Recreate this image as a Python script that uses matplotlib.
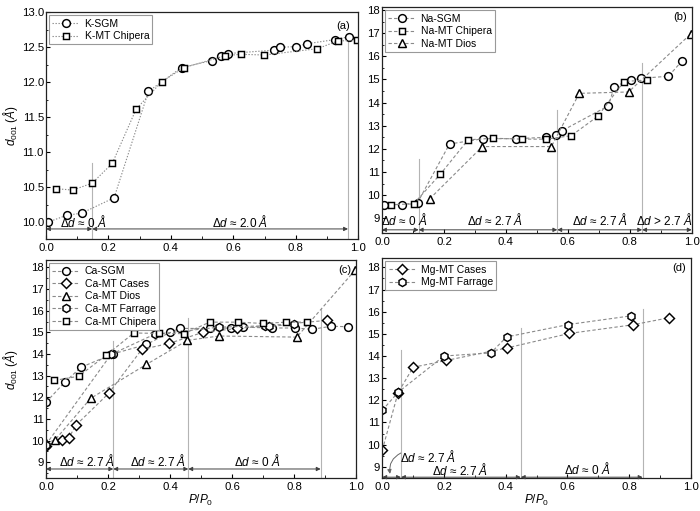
import matplotlib
matplotlib.use("Agg")
import matplotlib.pyplot as plt
from matplotlib.ticker import MultipleLocator, FormatStrFormatter

plt.rcParams['font.family'] = ['Liberation Sans', 'DejaVu Sans']
plt.rcParams['mathtext.fontset'] = 'custom'
plt.rcParams['mathtext.rm'] = 'Liberation Sans'
plt.rcParams['mathtext.it'] = 'Liberation Sans:italic'
plt.rcParams['mathtext.bf'] = 'Liberation Sans:bold'

# ---------------- data ----------------
# (a) K
k_sgm_x = [0.005, 0.066, 0.114, 0.218, 0.328, 0.434, 0.530, 0.561, 0.582, 0.730, 0.750, 0.800, 0.835, 0.924, 0.970]
k_sgm_y = [10.00, 10.10, 10.13, 10.35, 11.87, 12.21, 12.31, 12.37, 12.41, 12.46, 12.50, 12.51, 12.55, 12.61, 12.65]
k_chip_x = [0.032, 0.086, 0.148, 0.212, 0.289, 0.371, 0.442, 0.574, 0.623, 0.699, 0.869, 0.934, 0.995]
k_chip_y = [10.48, 10.46, 10.56, 10.84, 11.62, 12.01, 12.21, 12.38, 12.40, 12.39, 12.48, 12.59, 12.60]

# (b) Na
na_sgm_x = [0.005, 0.065, 0.115, 0.218, 0.327, 0.433, 0.531, 0.561, 0.582, 0.731, 0.750, 0.803, 0.837, 0.925, 0.970]
na_sgm_y = [9.59, 9.59, 9.68, 12.21, 12.44, 12.44, 12.50, 12.60, 12.79, 13.86, 14.69, 14.98, 15.05, 15.14, 15.82]
na_chip_x = [0.029, 0.102, 0.188, 0.278, 0.359, 0.453, 0.529, 0.611, 0.697, 0.781, 0.857]
na_chip_y = [9.59, 9.62, 10.90, 12.39, 12.46, 12.42, 12.42, 12.57, 13.41, 14.91, 14.98]
na_dios_x = [0.154, 0.324, 0.547, 0.637, 0.796, 0.997]
na_dios_y = [9.84, 12.10, 12.10, 14.40, 14.46, 16.97]

# (c) Ca
ca_sgm_x = [0.0, 0.060, 0.112, 0.215, 0.324, 0.400, 0.431, 0.528, 0.598, 0.634, 0.730, 0.804, 0.858, 0.920, 0.973]
ca_sgm_y = [11.77, 12.69, 13.38, 14.00, 14.44, 15.00, 15.18, 15.18, 15.20, 15.24, 15.20, 15.20, 15.14, 15.28, 15.26]
ca_cases_x = [0.0, 0.050, 0.074, 0.097, 0.202, 0.309, 0.398, 0.506, 0.617, 0.905]
ca_cases_y = [9.77, 10.01, 10.14, 10.72, 12.18, 14.21, 14.49, 15.00, 15.18, 15.55]
ca_dios_x = [0.0, 0.029, 0.144, 0.324, 0.456, 0.558, 0.809, 0.997]
ca_dios_y = [9.88, 10.03, 11.95, 13.52, 14.63, 14.83, 14.78, 17.87]
ca_farr_x = [0.0, 0.210, 0.350, 0.559, 0.706, 0.720, 0.801]
ca_farr_y = [9.82, 13.98, 14.91, 15.24, 15.30, 15.27, 15.38]
ca_chip_x = [0.027, 0.105, 0.195, 0.283, 0.365, 0.445, 0.528, 0.620, 0.699, 0.775, 0.841]
ca_chip_y = [12.78, 12.97, 13.95, 14.97, 14.95, 14.94, 15.47, 15.47, 15.41, 15.47, 15.47]

# (d) Mg
mg_cases_x = [0.0, 0.051, 0.100, 0.208, 0.403, 0.607, 0.813, 0.931]
mg_cases_y = [9.75, 12.34, 13.49, 13.80, 14.36, 15.02, 15.41, 15.73]
mg_farr_x = [0.0, 0.051, 0.200, 0.352, 0.403, 0.603, 0.805]
mg_farr_y = [11.55, 12.36, 14.00, 14.14, 14.86, 15.42, 15.81]

# region boundaries (vertical guide lines) and labels
a_bounds = [0.0, 0.148, 0.967]
a_vtop = [10.85, 12.65]
a_labels = [r'Δ$d$ ≈ 0 $Å$', r'Δ$d$ ≈ 2.0 $Å$']
b_bounds = [0.0, 0.1185, 0.566, 0.84, 1.0]
b_vtop = [11.55, 13.68, 15.70]
b_labels = [r'Δ$d$ ≈ 0 $Å$', r'Δ$d$ ≈ 2.7 $Å$', r'Δ$d$ ≈ 2.7 $Å$', r'Δ$d$ > 2.7 $Å$']
c_bounds = [0.0, 0.217, 0.459, 0.886]
c_vtop = [14.61, 15.65, 16.06]
c_labels = [r'Δ$d$ ≈ 2.7 $Å$', r'Δ$d$ ≈ 2.7 $Å$', r'Δ$d$ ≈ 0 $Å$']
d_bounds = [0.0, 0.0606, 0.449, 0.844]
d_vtop = [14.27, 15.25, 16.10]
d_labels = [r'Δ$d$ ≈ 2.7 $Å$', r'Δ$d$ ≈ 2.7 $Å$', r'Δ$d$ ≈ 0 $Å$']

# ---------------- figure ----------------
fig = plt.figure(figsize=(7.0, 5.11), dpi=100)
W, H = 700.0, 511.0

def mkax(x0, x1, y0, y1):
    return fig.add_axes([x0 / W, 1 - y1 / H, (x1 - x0) / W, (y1 - y0) / H])

axa = mkax(46, 358.3, 12.3, 239.3)
axb = mkax(382, 691.7, 7.3, 233.3)
axc = mkax(46, 356, 260, 478.3)
axd = mkax(382.3, 690.7, 258.3, 478.3)

LC = '#8a8a8a'
VC = '#b4b4b4'
AC = '#404040'
TFS = 8.2

def series(ax, x, y, marker, ms, label, dashes):
    ax.plot(x, y, color=LC, lw=0.8, dashes=dashes, marker=marker, ms=ms,
            mfc='white', mec='black', mew=1.05, label=label)

def style(ax, ylim, ymaj, ymin_, yfmt):
    ax.set_xlim(0, 1)
    ax.set_ylim(*ylim)
    ax.xaxis.set_major_locator(MultipleLocator(0.2))
    ax.xaxis.set_minor_locator(MultipleLocator(0.1))
    ax.xaxis.set_major_formatter(FormatStrFormatter('%.1f'))
    ax.yaxis.set_major_locator(MultipleLocator(ymaj))
    ax.yaxis.set_minor_locator(MultipleLocator(ymin_))
    ax.yaxis.set_major_formatter(FormatStrFormatter(yfmt))
    ax.tick_params(axis='x', which='major', direction='in', length=3, width=0.8, labelsize=TFS, pad=3)
    ax.tick_params(axis='x', which='minor', direction='in', length=2, width=0.6)
    ax.tick_params(axis='y', which='major', direction='in', length=3, width=0.8, labelsize=TFS, pad=1.5)
    ax.tick_params(axis='y', which='minor', direction='in', length=1.5, width=0.6)
    for s in ax.spines.values():
        s.set_linewidth(0.9)
        s.set_color('#222222')

def guides(ax, bounds, vtop, ylo):
    for xv, yt in zip(bounds[1:], vtop):
        ax.plot([xv, xv], [ylo, yt], color=VC, lw=0.8, zorder=1)

def arrows(ax, bounds, yarr):
    for x0, x1 in zip(bounds[:-1], bounds[1:]):
        ax.annotate('', xy=(x1, yarr), xytext=(x0, yarr),
                    arrowprops=dict(arrowstyle='<|-|>', color=AC, lw=0.7,
                                    shrinkA=0, shrinkB=0, mutation_scale=6))

def legend(ax):
    lg = ax.legend(loc='upper left', fontsize=7.5, frameon=True, fancybox=False,
                   edgecolor='#999999', framealpha=1, borderpad=0.3, labelspacing=0.25,
                   handlelength=2.6, handletextpad=0.5, borderaxespad=0.3)
    lg.get_frame().set_linewidth(0.8)

MS_O, MS_S, MS_T, MS_D, MS_H = 5.6, 4.8, 5.6, 5.0, 5.8

# ---- (a)
dot = (1.2, 1.5)
series(axa, k_sgm_x, k_sgm_y, 'o', MS_O, 'K-SGM', dot)
series(axa, k_chip_x, k_chip_y, 's', MS_S, 'K-MT Chipera', dot)
style(axa, (9.757, 13.0), 0.5, 0.25, '%.1f')
guides(axa, a_bounds, a_vtop, 9.757)
arrows(axa, a_bounds, 9.905)
axa.text(0.12, 10.0, a_labels[0], ha='center', va='center', fontsize=8.5)
axa.text(0.62, 10.0, a_labels[1], ha='center', va='center', fontsize=8.5)
axa.set_ylabel(r'$d_{\mathrm{001}}$ ($Å$)', fontsize=8.5)
axa.yaxis.set_label_coords(-0.083, 0.5)
axa.text(0.975, 0.94, '(a)', transform=axa.transAxes, ha='right', va='center', fontsize=8)
legend(axa)

# ---- (b)
dash = (3, 2)
series(axb, na_sgm_x, na_sgm_y, 'o', MS_O, 'Na-SGM', dash)
series(axb, na_chip_x, na_chip_y, 's', MS_S, 'Na-MT Chipera', dash)
series(axb, na_dios_x, na_dios_y, '^', MS_T, 'Na-MT Dios', dash)
style(axb, (8.35, 18.12), 1, 0.5, '%d')
guides(axb, b_bounds, b_vtop, 8.35)
arrows(axb, b_bounds, 8.5)
for xt, lab in zip([0.073, 0.364, 0.703, 0.91], b_labels):
    axb.text(xt, 8.93, lab, ha='center', va='center', fontsize=8.5)
axb.text(0.985, 0.955, '(b)', transform=axb.transAxes, ha='right', va='center', fontsize=8)
legend(axb)

# ---- (c)
series(axc, ca_sgm_x, ca_sgm_y, 'o', MS_O, 'Ca-SGM', dash)
series(axc, ca_cases_x, ca_cases_y, 'D', MS_D, 'Ca-MT Cases', dash)
series(axc, ca_dios_x, ca_dios_y, '^', MS_T, 'Ca-MT Dios', dash)
series(axc, ca_farr_x, ca_farr_y, 'h', MS_H, 'Ca-MT Farrage', dash)
series(axc, ca_chip_x, ca_chip_y, 's', MS_S, 'Ca-MT Chipera', dash)
style(axc, (8.26, 18.34), 1, 0.5, '%d')
guides(axc, c_bounds, c_vtop, 8.26)
arrows(axc, c_bounds, 8.69)
for xt, lab in zip([0.134, 0.362, 0.68], c_labels):
    axc.text(xt, 9.08, lab, ha='center', va='center', fontsize=8.5)
axc.set_ylabel(r'$d_{\mathrm{001}}$ ($Å$)', fontsize=8.5)
axc.yaxis.set_label_coords(-0.083, 0.5)
axc.set_xlabel(r'$P$/$P_{\mathrm{0}}$', fontsize=8.5, labelpad=0)
axc.text(0.985, 0.955, '(c)', transform=axc.transAxes, ha='right', va='center', fontsize=8)
legend(axc)

# ---- (d)
series(axd, mg_cases_x, mg_cases_y, 'D', MS_D, 'Mg-MT Cases', dash)
series(axd, mg_farr_x, mg_farr_y, 'h', MS_H, 'Mg-MT Farrage', dash)
style(axd, (8.48, 18.41), 1, 0.5, '%d')
guides(axd, d_bounds, d_vtop, 8.48)
arrows(axd, d_bounds, 8.53)
axd.text(0.057, 9.45, d_labels[0], ha='left', va='center', fontsize=8.5)
axd.annotate('', xy=(0.025, 8.68), xytext=(0.06, 9.62),
             arrowprops=dict(arrowstyle='-|>', color='#666666', lw=0.7,
                             connectionstyle='arc3,rad=0.35', mutation_scale=6,
                             shrinkA=0, shrinkB=0))
axd.text(0.252, 8.85, d_labels[1], ha='center', va='center', fontsize=8.5)
axd.text(0.663, 8.9, d_labels[2], ha='center', va='center', fontsize=8.5)
axd.set_xlabel(r'$P$/$P_{\mathrm{0}}$', fontsize=8.5, labelpad=0)
axd.text(0.985, 0.955, '(d)', transform=axd.transAxes, ha='right', va='center', fontsize=8)
legend(axd)

fig.savefig('out.png', dpi=100)
